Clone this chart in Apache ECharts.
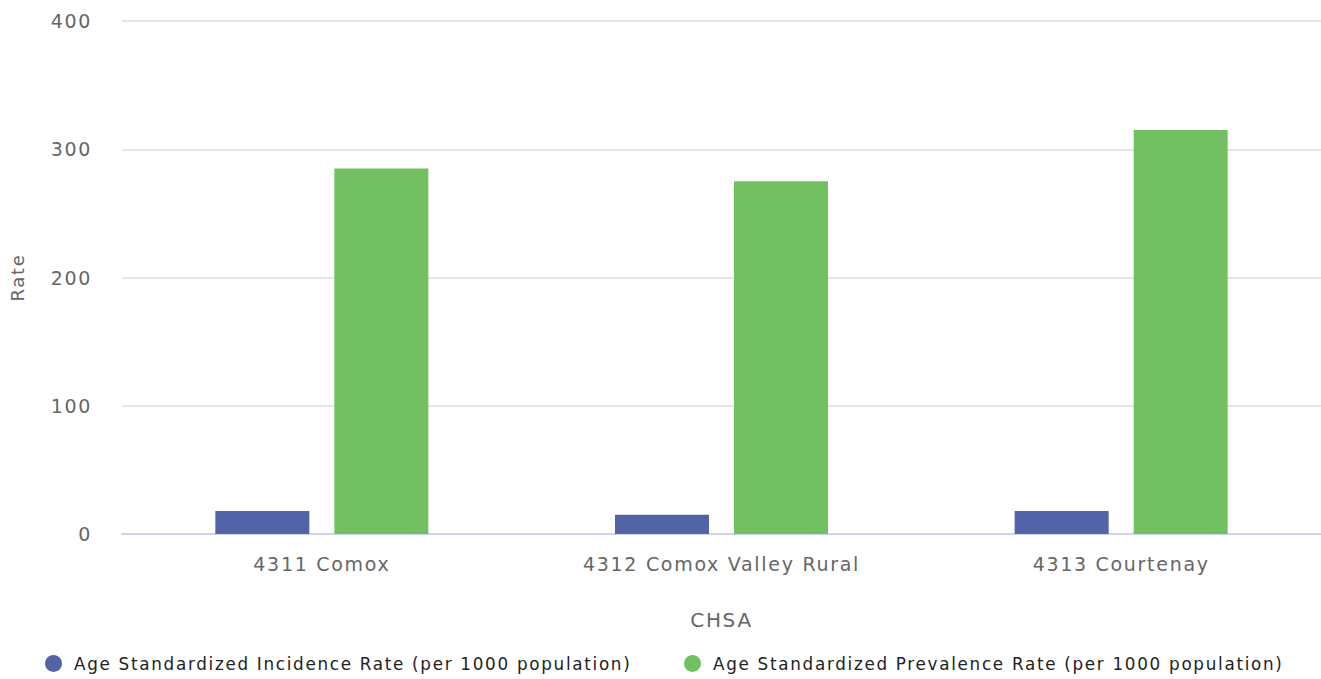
<!DOCTYPE html>
<html><head><meta charset="utf-8">
<script src="https://cdn.jsdelivr.net/npm/echarts@6/dist/echarts.min.js"></script>
<style>html,body{margin:0;padding:0;background:#fff}#c{width:1321px;height:679px}#c text{letter-spacing:1.7px}</style>
</head><body><div id="c"></div>
<script>
const categories = ['4311 Comox', '4312 Comox Valley Rural', '4313 Courtenay'];
const incidence = [18, 15, 18];
const prevalence = [285, 275, 315];
const seriesNames = ['Age Standardized Incidence Rate (per 1000 population)', 'Age Standardized Prevalence Rate (per 1000 population)'];
const yTicks = [0, 100, 200, 300, 400];

const font = 'DejaVu Sans';
const chart = echarts.init(document.getElementById('c'), null, {renderer: 'svg'});
const legendBase = {
  bottom: 2, icon: 'circle', itemWidth: 17, itemHeight: 17,
  textStyle: {fontFamily: font, fontSize: 16.8, color: '#222', padding: [0, 0, 0, 7]}
};
chart.setOption({
  animation: false,
  textStyle: {fontFamily: font},
  grid: {left: 120, right: 0, top: 21, bottom: 145},
  legend: [
    Object.assign({left: 40, data: [seriesNames[0]]}, legendBase),
    Object.assign({left: 679, data: [seriesNames[1]]}, legendBase)
  ],
  xAxis: {
    type: 'category', data: categories,
    name: 'CHSA', nameLocation: 'middle', nameGap: 76,
    nameTextStyle: {fontFamily: font, fontSize: 20, color: '#666'},
    axisLine: {lineStyle: {color: '#ccd6eb', width: 2}},
    axisTick: {show: false},
    axisLabel: {fontFamily: font, fontSize: 19, color: '#666', margin: 20}
  },
  yAxis: {
    type: 'value', min: yTicks[0], max: yTicks[yTicks.length-1], interval: 100,
    name: 'Rate', nameLocation: 'middle', nameGap: 96,
    nameTextStyle: {fontFamily: font, fontSize: 18, color: '#666'},
    axisLine: {show: false}, axisTick: {show: false},
    axisLabel: {fontFamily: font, fontSize: 19, color: '#666', margin: 30},
    splitLine: {lineStyle: {color: '#e6e6e6', width: 2}}
  },
  series: [
    {name: seriesNames[0], type: 'bar', data: incidence, barWidth: 94, barGap: '26.6%', itemStyle: {color: '#5263a8'}},
    {name: seriesNames[1], type: 'bar', data: prevalence, barWidth: 94, itemStyle: {color: '#73c062'}}
  ]
});
</script></body></html>
